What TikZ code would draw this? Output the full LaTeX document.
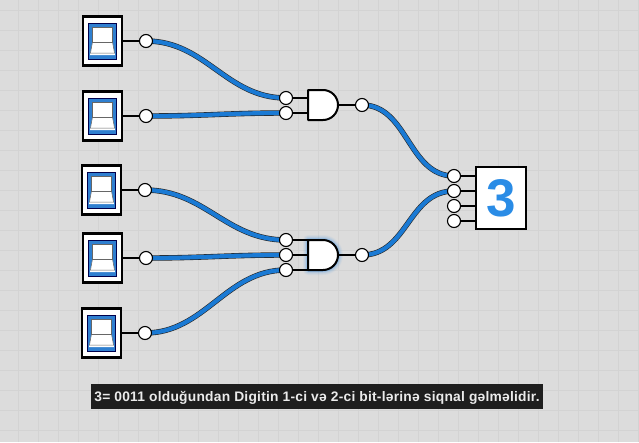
\documentclass[tikz,border=0pt]{standalone}
\usepackage{fontspec}
\setmainfont{Liberation Sans}
\definecolor{bg}{HTML}{DCDCDC}
\definecolor{gridc}{HTML}{D3D3D3}
\definecolor{wireb}{HTML}{1A7AD4}
\definecolor{numc}{HTML}{2A8CE6}
\definecolor{swb}{HTML}{2F7FD0}
\definecolor{cap}{HTML}{1E1E1E}
\tikzset{
 x=1pt,y=-1pt,
 pin/.style={circle,draw=black,fill=white,line width=1.1pt,minimum size=13pt,inner sep=0pt},
 stub/.style={line width=2pt,black},
 wireout/.style={line width=5.4pt,black!85},
 wirein/.style={line width=4.2pt,wireb},
 gate/.style={draw=black,fill=white,line width=2pt,line join=round},
 switchbox/.style={draw=black,fill=white,line width=2.4pt,minimum width=39pt,minimum height=49pt,inner sep=0pt},
 display/.style={draw=black,fill=white,line width=2pt,minimum width=50pt,minimum height=62pt,inner sep=0pt,text=numc,font=\fontsize{53}{53}\selectfont\bfseries},
 caption/.style={fill=cap,text=white!92!black,font=\fontsize{13.8}{14}\selectfont\bfseries\addfontfeature{LetterSpace=1.7},minimum width=452pt,minimum height=25pt,inner sep=0pt},
}
\newcommand{\swt}[3]{%
 \node[switchbox] (#1) at (#2,#3) {};
 \fill[swb] (#2-14,#3-18) rectangle (#2+14,#3+18);
 \draw[black!70!blue,line width=.8pt] (#2-14,#3-18) rectangle (#2+14,#3+18);
 \fill[white] (#2-10,#3-14) rectangle (#2+10,#3+1);
 \fill[white] (#2-10,#3+1) -- (#2+10,#3+1) -- (#2+12.5,#3+14) -- (#2-12.5,#3+14) -- cycle;
 \draw[black!60,line width=.5pt] (#2-10,#3+1) -- (#2-12,#3+12) -- (#2+12,#3+12) -- (#2+10,#3+1);
 \draw[black!60,line width=.5pt] (#2-10,#3-14) rectangle (#2+10,#3+1);
}
\begin{document}
\begin{tikzpicture}
\useasboundingbox (0,0) rectangle (639,442);
\fill[bg] (0,0) rectangle (639,442);
\begin{scope}[shift={(18,10)}]
\draw[gridc,line width=.8pt,step=20pt] (-18,-10) grid (621,432);
\end{scope}
% switches
\swt{s1}{102.5}{41}
\swt{s2}{102.5}{116}
\swt{s3}{101.5}{190}
\swt{s4}{102.5}{258}
\swt{s5}{101.5}{333}
% pins
\coordinate (po1) at (146,41);
\coordinate (po2) at (146,116);
\coordinate (po3) at (145,190);
\coordinate (po4) at (146,258);
\coordinate (po5) at (145,333);
\coordinate (a1) at (286,98);
\coordinate (a2) at (286,113);
\coordinate (b1) at (286,240);
\coordinate (b2) at (286,255);
\coordinate (b3) at (286,270);
\coordinate (ao) at (362,105);
\coordinate (bo) at (362,255);
\coordinate (d1) at (454,176);
\coordinate (d2) at (454,191);
\coordinate (d3) at (454,206);
\coordinate (d4) at (454,221);
% wires
\foreach \p/\q in {po1/a1,po2/a2,po3/b1,po4/b2,po5/b3}{
 \draw[wireout] (\p) .. controls +(60,0) and +(-60,0) .. (\q);
}
\foreach \p/\q in {ao/d1,bo/d2}{
 \draw[wireout] (\p) .. controls +(46,0) and +(-46,0) .. (\q);
}
\foreach \p/\q in {po1/a1,po2/a2,po3/b1,po4/b2,po5/b3}{
 \draw[wirein] (\p) .. controls +(60,0) and +(-60,0) .. (\q);
}
\foreach \p/\q in {ao/d1,bo/d2}{
 \draw[wirein] (\p) .. controls +(46,0) and +(-46,0) .. (\q);
}
% glow
\foreach \w/\o in {10/.05,8/.07,6/.1,4/.14,3/.2}{
 \draw[line width=\w pt,numc,opacity=\o,line join=round] (308,240) -- (323,240) arc[start angle=-90,end angle=90,radius=15] -- (308,270) -- cycle;
}
% stubs
\draw[stub] (s1.east) -- (po1);
\draw[stub] (s2.east) -- (po2);
\draw[stub] (s3.east) -- (po3);
\draw[stub] (s4.east) -- (po4);
\draw[stub] (s5.east) -- (po5);
\draw[stub] (a1) -- (308,98);
\draw[stub] (a2) -- (308,113);
\draw[stub] (b1) -- (308,240);
\draw[stub] (b2) -- (308,255);
\draw[stub] (b3) -- (308,270);
\draw[stub] (338,105) -- (ao);
\draw[stub] (338,255) -- (bo);
\draw[stub] (d1) -- (476,176);
\draw[stub] (d2) -- (476,191);
\draw[stub] (d3) -- (476,206);
\draw[stub] (d4) -- (476,221);
% gates
\draw[gate] (308,90) -- (323,90) arc[start angle=-90,end angle=90,radius=15] -- (308,120) -- cycle;
\draw[gate] (308,240) -- (323,240) arc[start angle=-90,end angle=90,radius=15] -- (308,270) -- cycle;
% display
\node[display] (disp) at (501,198) {\raisebox{-1pt}{3}};
% pin circles
\foreach \p in {po1,po2,po3,po4,po5,a1,a2,b1,b2,b3,ao,bo,d1,d2,d3,d4}{
 \node[pin] at (\p) {};
}
% caption
\node[caption,text height=9pt,text depth=2pt] (cap) at (317,396) {\raisebox{-1.5pt}{3= 0011 olduğundan Digitin 1-ci və 2-ci bit-lərinə siqnal gəlməlidir.}};
\end{tikzpicture}
\end{document}
